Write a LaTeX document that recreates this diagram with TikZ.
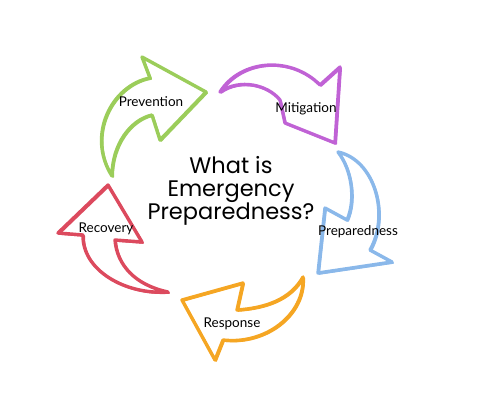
\documentclass[tikz,border=0pt]{standalone}
\usepackage{fontspec}
\setmainfont{Lato}
\newfontfamily\titlefont{Poppins}
\definecolor{cyclegreen}{HTML}{9BCD5A}
\definecolor{cyclepurple}{HTML}{C062D5}
\definecolor{cycleblue}{HTML}{8AB8EA}
\definecolor{cycleorange}{HTML}{F5A623}
\definecolor{cyclered}{HTML}{DC4A5E}
\usepackage{tikz}
\usetikzlibrary{calc}

\begin{document}
\begin{tikzpicture}[x=1pt, y=-1pt,
    sketch/.style={draw=#1, line width=3.4pt, line join=round, line cap=round,
      postaction={draw=#1, line width=1.6pt,
        transform canvas={shift={(1.2pt,-1pt)}}}},
    label/.style={font=\fontsize{13.5}{15}\selectfont, inner sep=0pt}]
  \useasboundingbox (0,0) rectangle (480,408);
  % Prevention (green)
  \draw[sketch=cyclegreen] (112,176) .. controls (86,135) and (112,85) .. (150,78)
    -- (142,57) -- (206,92) -- (160,140) -- (152,115)
    .. controls (130,120) and (112,145) .. cycle;
  % Mitigation (purple)
  \draw[sketch=cyclepurple] (220,92) .. controls (240,60) and (290,55) .. (320,85)
    -- (340,67) -- (335,143) -- (285,123) -- (280,100)
    .. controls (268,85) and (240,78) .. cycle;
  % Preparedness (blue)
  \draw[sketch=cycleblue] (338,152) .. controls (375,160) and (390,215) .. (370,250)
    -- (392,262) -- (318,273) -- (325,208) -- (347,220)
    .. controls (356,200) and (352,170) .. cycle;
  % Response (orange)
  \draw[sketch=cycleorange] (303,277) .. controls (305,315) and (265,345) .. (223,340)
    -- (215,360) -- (182,300) -- (243,283) -- (237,310)
    .. controls (265,308) and (290,300) .. cycle;
  % Recovery (red)
  \draw[sketch=cyclered] (168,292) .. controls (125,295) and (82,270) .. (83,235)
    -- (58,233) -- (108,185) -- (142,242) -- (115,240)
    .. controls (117,265) and (135,285) .. cycle;
  % labels
  \node[label] (prevention) at (151,102) {Prevention};
  \node[label] (mitigation) at (306,109) {Mitigation};
  \node[label] (preparedness) at (358,232) {Preparedness};
  \node[label] (response) at (232,324) {Response};
  \node[label] (recovery) at (106,229) {Recovery};
  \node[font=\titlefont\fontsize{22.5}{22.5}\selectfont, align=center, inner sep=0pt]
    (title) at (231,191) {What is\\Emergency\\Preparedness?};
\end{tikzpicture}
\end{document}
